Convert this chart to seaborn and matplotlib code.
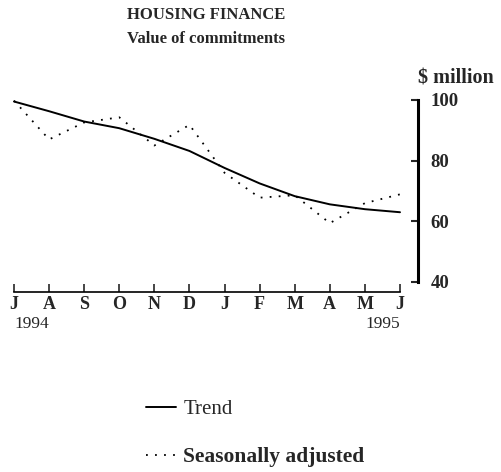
import pandas as pd
import matplotlib
matplotlib.use('Agg')
import matplotlib.pyplot as plt
import seaborn as sns

# data
months = ['J', 'A', 'S', 'O', 'N', 'D', 'J', 'F', 'M', 'A', 'M', 'J']
trend = [99.5, 96.3, 92.9, 90.7, 87.2, 83.2, 77.6, 72.5, 68.3, 65.6, 64.0, 63.0]
seas_adj = [99.8, 87.0, 92.6, 94.3, 85.0, 91.8, 76.0, 67.8, 68.6, 59.4, 66.0, 68.9]
y_ticks = [40, 60, 80, 100]

df = pd.DataFrame({'idx': range(len(months)), 'Trend': trend,
                   'Seasonally adjusted': seas_adj})

sns.set_style('white')
plt.rcParams['font.family'] = ['Liberation Serif', 'DejaVu Serif']

fig = plt.figure(figsize=(5.01, 4.72), dpi=100)
ax = fig.add_axes([14 / 501, 1 - 292 / 472, (418 - 14) / 501, (292 - 100) / 472])

sns.lineplot(data=df, x='idx', y='Trend', ax=ax, color='black', lw=1.4,
             label='Trend', clip_on=False)
sns.lineplot(data=df, x='idx', y='Seasonally adjusted', ax=ax, color='black',
             lw=1.3, linestyle=(0, (1, 4)), label='Seasonally adjusted', clip_on=False)

ax.set_xlim(0, 11 + 18 / 35.1)
ax.set_ylim(36.7, 100)

for s in ['top', 'left']:
    ax.spines[s].set_visible(False)
ax.spines['bottom'].set_bounds(0, 11)
ax.spines['right'].set_bounds(40, 100)
ax.spines['right'].set_linewidth(2.2)
ax.spines['bottom'].set_linewidth(1.2)
for s in ['right', 'bottom']:
    ax.spines[s].set_color('black')

ax.set_xticks(range(len(months)))
ax.set_xticklabels(months, fontsize=13, fontweight='bold')
ax.set_yticks(y_ticks)
ax.set_yticklabels([str(v) for v in y_ticks], fontsize=13.5, fontweight='bold')
ax.yaxis.tick_right()
ax.tick_params(axis='x', direction='in', length=6, width=1.2, pad=3, bottom=True)
ax.tick_params(axis='y', direction='in', length=5, width=1.5, pad=9, right=True, left=False)
ax.set_xlabel('')
ax.set_ylabel('')

# year labels under the first and last months
ax.text(0, -0.125, '1994', transform=ax.get_xaxis_transform(), ha='left', va='top', fontsize=12.5)
ax.text(11, -0.125, '1995', transform=ax.get_xaxis_transform(), ha='right', va='top', fontsize=12.5)
ax.text(1.0, 1.06, '$ million', transform=ax.transAxes, ha='left', va='bottom',
        fontsize=14.5, fontweight='bold')

fig.text(206 / 501, 1 - 7 / 472, 'HOUSING FINANCE', ha='center', va='top',
         fontsize=12, fontweight='bold')
fig.text(206 / 501, 1 - 31 / 472, 'Value of commitments', ha='center', va='top',
         fontsize=12, fontweight='bold')

ax.get_legend().remove()
h, l = ax.get_legend_handles_labels()
leg = fig.legend(h, l, loc='upper left', bbox_to_anchor=(127 / 501, 1 - 381 / 472),
                 frameon=False, fontsize=15, handlelength=1.45, handletextpad=0.35,
                 labelspacing=1.35)
leg.get_texts()[1].set_fontweight('bold')
leg.get_texts()[1].set_fontsize(15.5)

fig.savefig('out.png', dpi=100)
